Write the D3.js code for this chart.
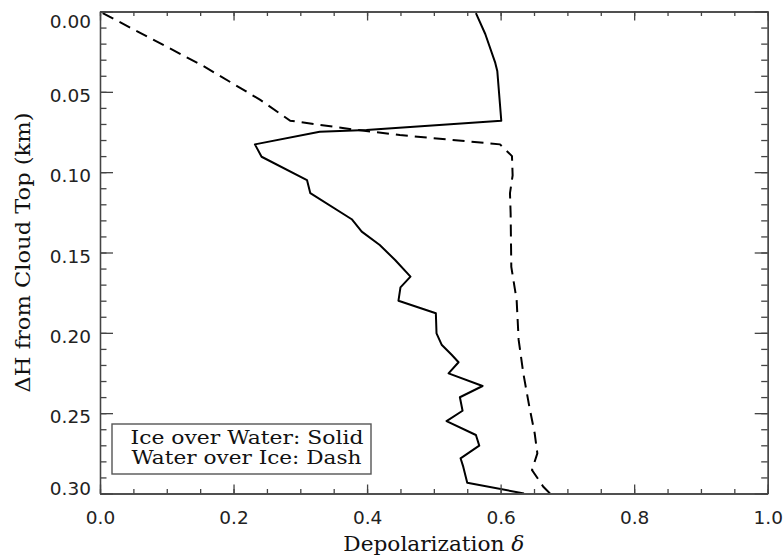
<!DOCTYPE html>
<html lang="en">
<head>
    <meta charset="UTF-8">
    <title>Depolarization vs height from cloud top</title>
    <script src="https://d3js.org/d3.v7.min.js"></script>
    <style>
        body {
            margin: 0;
            background-color: #fff;
        }
        .tick-label {
            font-family: "DejaVu Sans", sans-serif;
            font-size: 18.5px;
            fill: #222;
        }
        .title {
            font-family: "DejaVu Serif", serif;
            fill: #111;
        }
        .axis path, .axis line {
            stroke: #444;
            stroke-width: 1.3px;
        }
    </style>
</head>
<body>
    <div id="chart"></div>

    <script>
    // Ice over water (solid line): depolarization and height below cloud top (km)
    const iceH = [0.001, 0.014, 0.032, 0.037, 0.068, 0.0738, 0.0748, 0.0827, 0.0904, 0.1049,
                  0.1131, 0.1293, 0.137, 0.1453, 0.1547, 0.165, 0.1717, 0.180, 0.1878, 0.2003,
                  0.2076, 0.2138, 0.2183, 0.2252, 0.2331, 0.2401, 0.2485, 0.2549, 0.2636, 0.2702,
                  0.2781, 0.2833, 0.2933, 0.300];
    const iceDelta = [0.563, 0.577, 0.592, 0.595, 0.601, 0.399, 0.329, 0.232, 0.242, 0.310,
                      0.315, 0.377, 0.392, 0.419, 0.442, 0.465, 0.450, 0.447, 0.503, 0.504,
                      0.512, 0.527, 0.537, 0.522, 0.573, 0.539, 0.543, 0.519, 0.563, 0.568,
                      0.540, 0.544, 0.550, 0.635];

    // Water over ice (dashed line)
    const waterH = [0.001, 0.034, 0.055, 0.068, 0.0731, 0.0769, 0.0827, 0.0900, 0.1020, 0.1131,
                    0.1256, 0.159, 0.1796, 0.2044, 0.2252, 0.246, 0.2625, 0.275, 0.2854, 0.2958,
                    0.300];
    const waterDelta = [0.004, 0.155, 0.240, 0.285, 0.374, 0.449, 0.599, 0.617, 0.618, 0.614,
                        0.615, 0.616, 0.624, 0.627, 0.634, 0.643, 0.651, 0.655, 0.647, 0.664,
                        0.674];

    // Axis ticks
    const xMajor = [0.0, 0.2, 0.4, 0.6, 0.8, 1.0];
    const xMinor = d3.range(0, 1.0001, 0.05);
    const yMajor = [0.00, 0.05, 0.10, 0.15, 0.20, 0.25, 0.30];
    const yMinor = d3.range(0, 0.3001, 0.01);

    const legendLines = ["Ice over Water: Solid", "Water over Ice: Dash"];

    const width = 784, height = 558;
    const plot = {left: 100, right: 767.7, top: 11.5, bottom: 493.5};

    const svg = d3.select("#chart").append("svg")
        .attr("width", width)
        .attr("height", height);

    const x = d3.scaleLinear().domain([0, 1]).range([plot.left, plot.right]);
    const y = d3.scaleLinear().domain([0, 0.3]).range([plot.top, plot.bottom]);

    svg.append("clipPath").attr("id", "clip")
        .append("rect")
        .attr("x", plot.left).attr("y", plot.top)
        .attr("width", plot.right - plot.left)
        .attr("height", plot.bottom - plot.top);

    const line = d3.line()
        .x(d => x(d[0]))
        .y(d => y(d[1]));

    const lines = svg.append("g").attr("clip-path", "url(#clip)");

    lines.append("path")
        .datum(d3.zip(iceDelta, iceH))
        .attr("fill", "none")
        .attr("stroke", "#000")
        .attr("stroke-width", 2)
        .attr("stroke-linejoin", "round")
        .attr("d", line);

    lines.append("path")
        .datum(d3.zip(waterDelta, waterH))
        .attr("fill", "none")
        .attr("stroke", "#000")
        .attr("stroke-width", 2)
        .attr("stroke-dasharray", "12,7")
        .attr("d", line);

    // ****** axes on all four sides, ticks pointing inward *********
    function addAxis(axis, tx, ty) {
        return svg.append("g")
            .attr("class", "axis")
            .attr("transform", `translate(${tx},${ty})`)
            .call(axis);
    }

    // minor ticks first
    addAxis(d3.axisBottom(x).tickValues(xMinor).tickSize(-4.5).tickSizeOuter(0).tickFormat(""), 0, plot.bottom);
    addAxis(d3.axisTop(x).tickValues(xMinor).tickSize(-4.5).tickSizeOuter(0).tickFormat(""), 0, plot.top);
    addAxis(d3.axisLeft(y).tickValues(yMinor).tickSize(-6.5).tickSizeOuter(0).tickFormat(""), plot.left, 0);
    addAxis(d3.axisRight(y).tickValues(yMinor).tickSize(-6.5).tickSizeOuter(0).tickFormat(""), plot.right, 0);

    // major ticks
    const xBottom = addAxis(d3.axisBottom(x).tickValues(xMajor).tickSize(-9).tickSizeOuter(0)
        .tickFormat(d3.format(".1f")), 0, plot.bottom);
    addAxis(d3.axisTop(x).tickValues(xMajor).tickSize(-9).tickSizeOuter(0).tickFormat(""), 0, plot.top);
    const yLeft = addAxis(d3.axisLeft(y).tickValues(yMajor).tickSize(-13).tickSizeOuter(0)
        .tickFormat(d3.format(".2f")), plot.left, 0);
    addAxis(d3.axisRight(y).tickValues(yMajor).tickSize(-13).tickSizeOuter(0).tickFormat(""), plot.right, 0);

    xBottom.selectAll("text")
        .attr("class", "tick-label")
        .attr("y", 30.5)
        .attr("dy", null);

    // labels sit a little below their tick, kept inside the frame at both ends
    yLeft.selectAll(".tick")
        .each(function(d) {
            const pos = y(d);
            let shift = 3;
            if (pos + shift < plot.top + 9) shift = plot.top + 9 - pos;
            if (pos + shift > plot.bottom - 5.5) shift = plot.bottom - 5.5 - pos;
            d3.select(this).select("text")
                .attr("class", "tick-label")
                .attr("x", -9)
                .attr("y", shift)
                .attr("dy", "0.36em");
        });

    // axis titles
    const xTitle = svg.append("text")
        .attr("class", "title")
        .attr("x", (plot.left + plot.right) / 2)
        .attr("y", 550.5)
        .attr("text-anchor", "middle")
        .attr("font-size", 21)
        .attr("textLength", 181)
        .attr("lengthAdjust", "spacingAndGlyphs");
    xTitle.append("tspan").text("Depolarization ");
    xTitle.append("tspan").attr("font-style", "italic").text("\u03b4");

    svg.append("text")
        .attr("class", "title")
        .attr("transform", `translate(30,${(plot.top + plot.bottom) / 2}) rotate(-90)`)
        .attr("text-anchor", "middle")
        .attr("font-size", 20)
        .attr("textLength", 280)
        .attr("lengthAdjust", "spacingAndGlyphs")
        .text("\u0394H from Cloud Top (km)");

    // legend box
    const legend = svg.append("g");
    legend.append("rect")
        .attr("x", 112)
        .attr("y", 424)
        .attr("width", 259)
        .attr("height", 50)
        .attr("fill", "#fff")
        .attr("stroke", "#555")
        .attr("stroke-width", 1.4);

    legend.selectAll("text")
        .data(legendLines)
        .enter().append("text")
        .attr("class", "title")
        .attr("x", (d, i) => i === 0 ? 130.5 : 131.5)
        .attr("y", (d, i) => 444 + i * 19.5)
        .attr("font-size", 18)
        .attr("textLength", (d, i) => i === 0 ? 233 : 230)
        .attr("lengthAdjust", "spacingAndGlyphs")
        .text(d => d);
    </script>
</body>
</html>
